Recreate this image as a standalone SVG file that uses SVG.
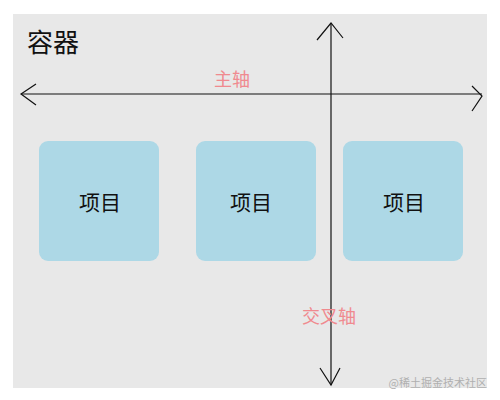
<svg xmlns="http://www.w3.org/2000/svg" width="500" height="400" viewBox="0 0 500 400">
<style>
.item rect{fill:#add8e6}
.label{font-family:"Noto Sans CJK SC","Liberation Serif",serif;fill:#111;text-anchor:middle}
.axis-label{font-family:"Noto Sans CJK SC",sans-serif;fill:#f08a8f;font-size:18px}
.axis{stroke:#111;stroke-width:1.2;fill:none}
</style>
<rect x="0" y="0" width="500" height="400" fill="#ffffff"/>
<g id="container">
<rect x="13" y="14" width="474" height="374" fill="#e8e8e8"/>
<text class="label" x="27" y="52" font-size="26" style="text-anchor:start">容器</text>
</g>
<g id="item1" class="item"><rect x="39" y="141" width="120" height="120" rx="9"/><text class="label" x="100" y="210" font-size="21">项目</text></g>
<g id="item2" class="item"><rect x="196" y="141" width="120" height="120" rx="9"/><text class="label" x="251" y="210" font-size="21">项目</text></g>
<g id="item3" class="item"><rect x="343" y="141" width="120" height="120" rx="9"/><text class="label" x="404" y="210" font-size="21">项目</text></g>
<g id="connectors">
<path class="axis" d="M21 94 H482"/>
<path class="axis" d="M36 84 L21 94 L36 105"/>
<path class="axis" d="M472 86 L482 96 L472 111"/>
<path class="axis" d="M331 23 V385"/>
<path class="axis" d="M317 40 L331 23 L343 38"/>
<path class="axis" d="M320 368 L331 385 L340 368"/>
</g>
<text class="axis-label" x="214" y="86">主轴</text>
<text class="axis-label" x="302" y="323">交叉轴</text>
<text x="487" y="387" font-family="Noto Sans CJK SC,sans-serif" font-size="11" fill="#b0b0b0" text-anchor="end">@稀土掘金技术社区</text>
</svg>
